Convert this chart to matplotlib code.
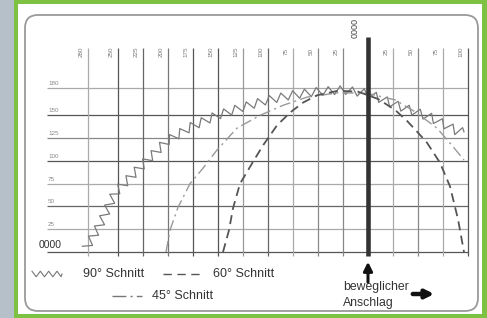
import numpy as np
import matplotlib
matplotlib.use("Agg")
import matplotlib.pyplot as plt
from matplotlib.patches import Rectangle, FancyBboxPatch
from matplotlib.patheffects import AbstractPathEffect
from matplotlib.path import Path
from matplotlib.transforms import IdentityTransform

plt.rcParams['font.family'] = ['Liberation Sans', 'DejaVu Sans']

# -------------------------------
# data
# -------------------------------
# x: distance from the movable stop (left negative), y: cut height
top_ticks = [-280, -250, -225, -200, -175, -150, -125, -100, -75, -50, -25, 0, 25, 50, 75, 100]
top_labels = ["280", "250", "225", "200", "175", "150", "125", "100", "75", "50", "25", "0000",
              "25", "50", "75", "100"]
left_ticks = [0, 25, 50, 75, 100, 125, 150, 180]
left_labels = ["0000", "25", "50", "75", "100", "125", "150", "180"]

cut90_x = [-282, -268, -253, -228, -201, -176, -151, -128, -103, -78, -51, -25, 0, 29, 62, 82, 90, 96]
cut90_y = [4, 30, 65, 93, 122, 138, 150, 158, 166, 172, 176, 178, 174, 161, 148, 137, 132, 132]

cut60_x = [-145, -139, -135, -128, -115, -105, -91, -78, -65, -51, -30, -10, 10, 27, 39, 50, 59, 72, 82, 90, 96]
cut60_y = [0, 24, 48, 75, 99, 117, 139, 153, 164, 172, 177, 176, 168, 156, 144, 131, 120, 98, 72, 36, 0]

cut45_x = [-202, -198, -190, -178, -165, -151, -131, -108, -85, -61, -28, 0, 27, 47, 69, 84, 96]
cut45_y = [0, 24, 49, 75, 92, 112, 136, 150, 161, 170, 175, 174, 167, 154, 136, 117, 101]


class Zigzag(AbstractPathEffect):
    """draws the line as a saw-tooth (line style only)"""
    def __init__(self, step=8.5, amp=3.0):
        super().__init__()
        self.step = step
        self.amp = amp

    def draw_path(self, renderer, gc, tpath, affine, rgbFace=None):
        pts = affine.transform(tpath.vertices)
        seg = np.diff(pts, axis=0)
        d = np.r_[0, np.cumsum(np.hypot(seg[:, 0], seg[:, 1]))]
        half = renderer.points_to_pixels(self.step) / 2
        amp = renderer.points_to_pixels(self.amp)
        s = np.arange(0, d[-1], half)
        x = np.interp(s, d, pts[:, 0])
        y = np.interp(s, d, pts[:, 1])
        tx = np.gradient(x)
        ty = np.gradient(y)
        n = np.hypot(tx, ty) + 1e-9
        sign = np.where(np.arange(len(s)) % 2 == 0, 1, -1)
        nx = x - ty / n * amp * sign
        ny = y + tx / n * amp * sign
        new = np.column_stack([np.r_[nx, pts[-1, 0]], np.r_[ny, pts[-1, 1]]])
        renderer.draw_path(gc, Path(new), IdentityTransform(), None)


W, H = 487, 318
fig = plt.figure(figsize=(W / 100, H / 100), dpi=100)

# background / frame in pixel coordinates
bg = fig.add_axes([0, 0, 1, 1])
bg.set_xlim(0, W)
bg.set_ylim(H, 0)
bg.axis('off')
bg.add_patch(Rectangle((0, 0), 14, H, color='#b5c0c8', lw=0))
bg.add_patch(Rectangle((14, 0), W - 14, H, color='#7dc242', lw=0))
bg.add_patch(Rectangle((18, 4), 464, 310, color='white', lw=0))
bg.add_patch(FancyBboxPatch((25, 15), 453, 296, boxstyle='round,pad=0,rounding_size=13',
                            facecolor='white', edgecolor='#9a9a9a', lw=1.3))

# chart axes: data units mapped on the picture
ax = fig.add_axes([0, 0, 1, 1])
ax.patch.set_alpha(0)
ax.set_xlim(-368, 119)
ax.set_ylim(-72.4, 276.6)
ax.axis('off')

hcol = ['#555555', '#aaaaaa', '#666666', '#aaaaaa', '#555555', '#888888', '#555555', '#aaaaaa']
for yv, c in zip(left_ticks, hcol):
    ax.hlines(yv, -321, 100, color=c, lw=0.9, zorder=2)

vcol = ['#aaaaaa', '#555555', '#666666', '#777777', '#555555', '#555555', '#999999', '#666666',
        '#aaaaaa', '#888888', '#888888', '#333333', '#aaaaaa', '#888888', '#aaaaaa', '#555555']
for xv, c in zip(top_ticks, vcol):
    if xv == 0:
        ax.vlines(xv, -4, 236, color='#333333', lw=3.3, zorder=5)
    else:
        ax.vlines(xv, -4, 224, color=c, lw=0.9, zorder=2)

for xv, lab in zip(top_ticks, top_labels):
    if xv == 0:
        ax.text(xv - 13, 246, lab, rotation=90, ha='center', va='center', fontsize=6.5, color='#444444')
    else:
        ax.text(xv - 7, 220, lab, rotation=90, ha='center', va='center', fontsize=4.5, color='#777777')

for yv, lab in zip(left_ticks, left_labels):
    if yv == 0:
        ax.text(-318, 7.5, lab, ha='center', va='center', fontsize=7.5, color='#333333')
    else:
        ax.text(-320, yv + 5, lab, ha='left', va='center', fontsize=4.5, color='#888888')

# curves
ax.plot(cut90_x, cut90_y, color='#7a7a7a', lw=0.9, zorder=3, path_effects=[Zigzag()])
ax.plot(cut45_x, cut45_y, color='#999999', lw=1.0, zorder=3, linestyle=(0, (8, 3, 1.5, 3)))
ax.plot(cut60_x, cut60_y, color='#555555', lw=1.3, zorder=4, linestyle=(0, (5, 3)))

# legend (pixel coordinates)
bg.plot([32, 62], [274, 274], color='#777777', lw=0.8, path_effects=[Zigzag(step=6, amp=2)])
bg.text(83, 274, "90° Schnitt", ha='left', va='center', fontsize=9, color='#333333')
bg.plot([163, 200], [274, 274], color='#555555', lw=1.0, linestyle=(0, (6, 4)))
bg.text(213, 274, "60° Schnitt", ha='left', va='center', fontsize=9, color='#333333')
bg.plot([112, 142], [296, 296], color='#777777', lw=1.0, linestyle=(0, (10, 3, 1.5, 3)))
bg.text(152, 296, "45° Schnitt", ha='left', va='center', fontsize=9, color='#333333')

bg.annotate('', xy=(368, 259), xytext=(368, 285),
            arrowprops=dict(arrowstyle='-|>', lw=2.2, color='#111111', mutation_scale=13))
bg.text(343, 287, "beweglicher", ha='left', va='center', fontsize=8.8, color='#333333')
bg.text(343, 303, "Anschlag", ha='left', va='center', fontsize=8.8, color='#333333')
bg.annotate('', xy=(437, 294), xytext=(410, 294),
            arrowprops=dict(arrowstyle='-|>', lw=3.2, color='#111111', mutation_scale=12))

plt.savefig("out.png", dpi=100)
